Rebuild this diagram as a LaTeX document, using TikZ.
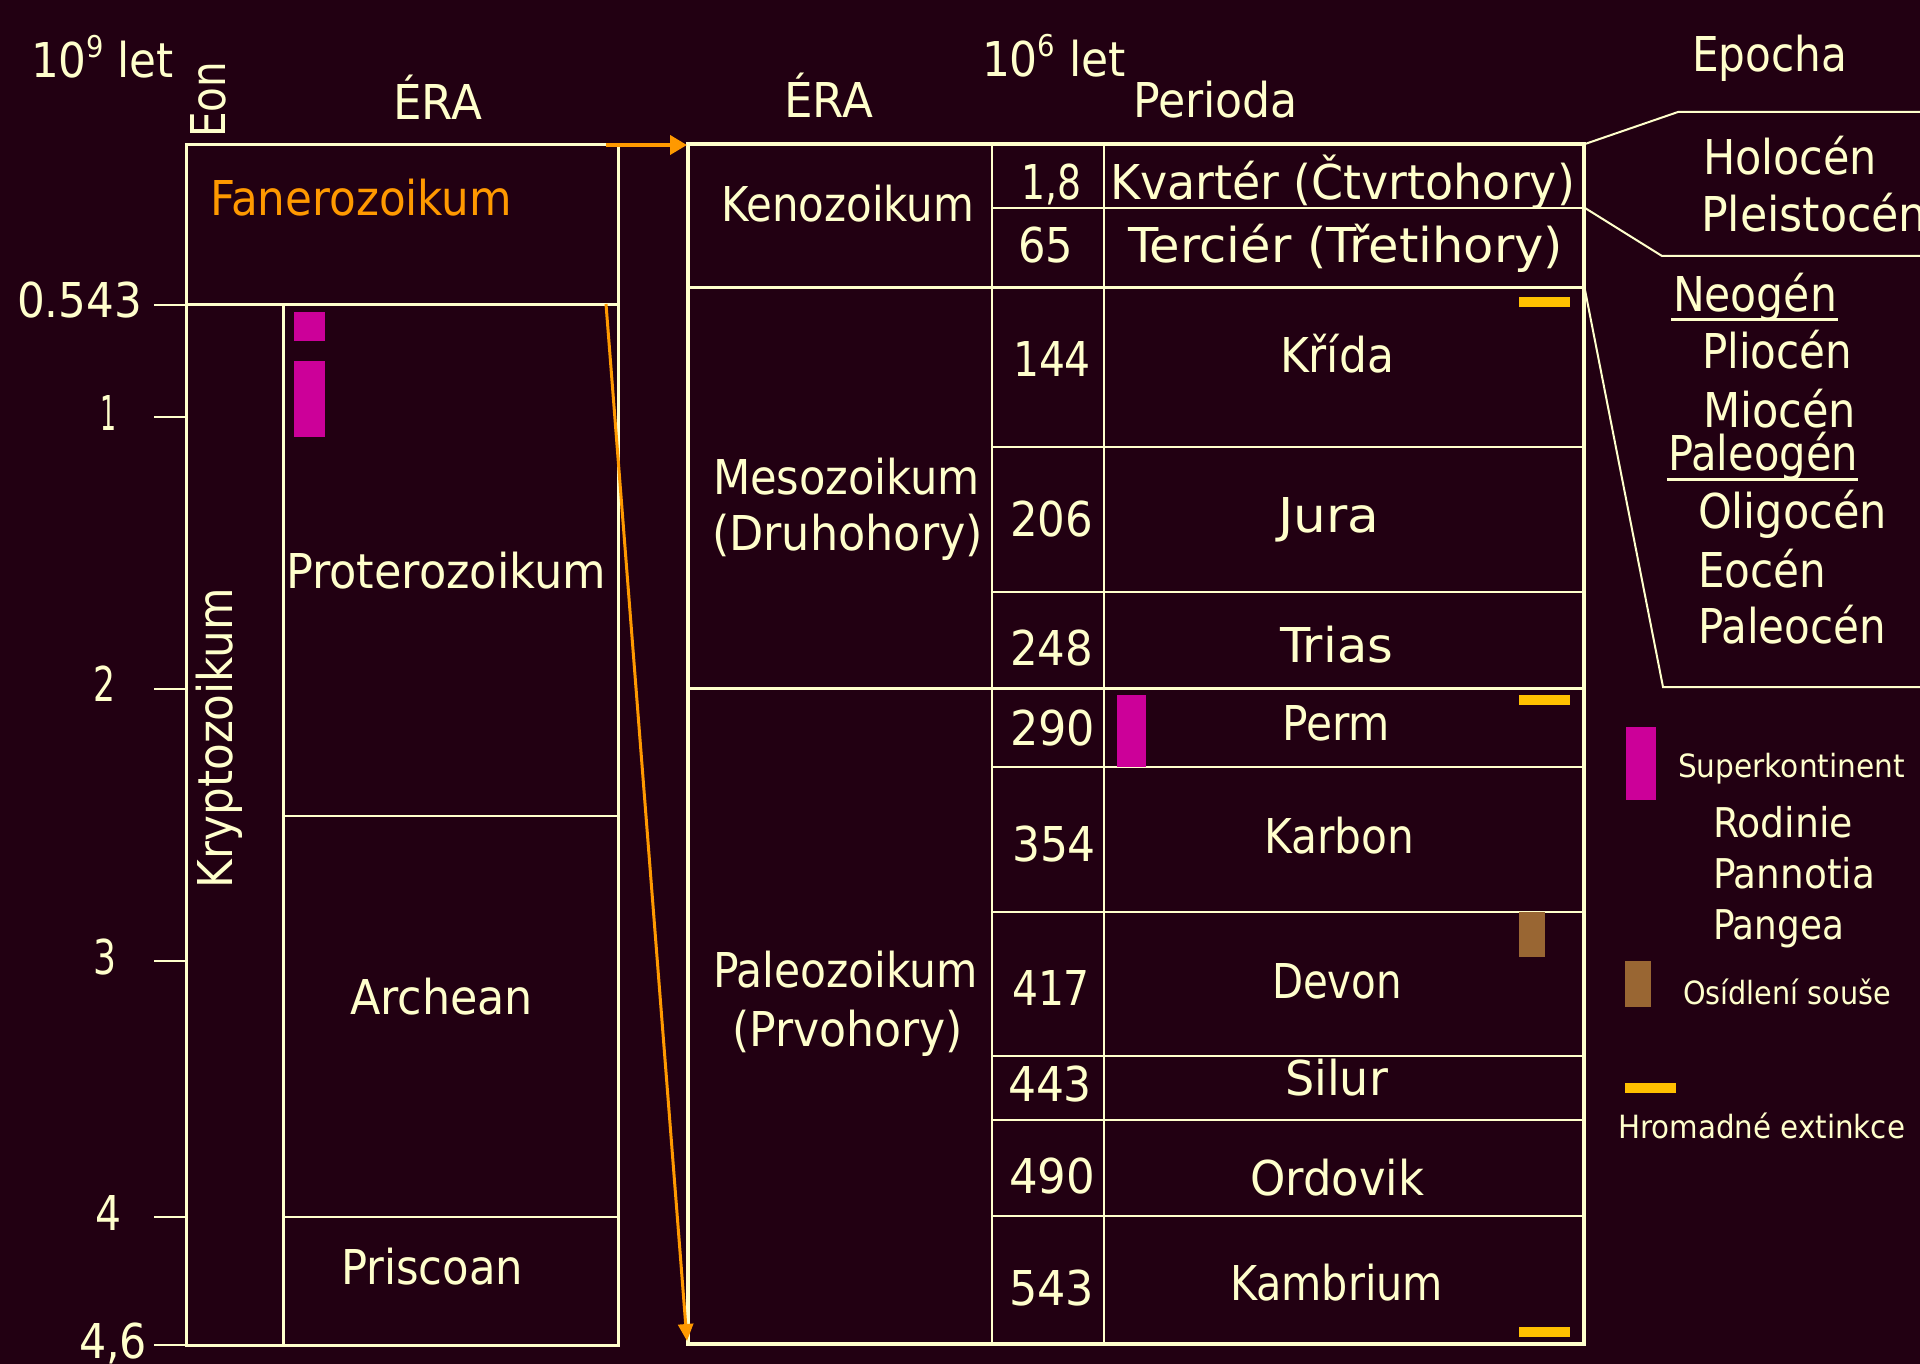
\documentclass[tikz,border=0pt]{standalone}
\usepackage{fontspec}
\setmainfont{DejaVu Sans}
\usepackage{graphicx}
\usetikzlibrary{arrows.meta}
\definecolor{bgc}{HTML}{220012}
\definecolor{cream}{HTML}{FFFFCC}
\definecolor{orng}{HTML}{FF9900}
\definecolor{mag}{HTML}{CC0099}
\definecolor{brn}{HTML}{996633}
\definecolor{ylw}{HTML}{FFC000}
\newcommand{\putt}[6][]{\node[txt,#1] (#2) at (#3,#4) {\resizebox{#5pt}{\height}{#6}};}
\newcommand{\supnum}[1]{\raisebox{0.42em}{\fontsize{30}{30}\selectfont #1}}
\begin{document}
\begin{tikzpicture}[x=1pt,y=-1pt,
 txt/.style={anchor=base west, inner sep=0pt, outer sep=0pt, text=cream, font=\fontsize{48}{56}\selectfont},
 small/.style={font=\fontsize{32}{38}\selectfont},
 mid/.style={font=\fontsize{41}{48}\selectfont},
 thickline/.style={draw=cream, line width=4pt},
 medline/.style={draw=cream, line width=3pt},
 thinline/.style={draw=cream, line width=2pt},
 tickline/.style={draw=cream, line width=1.5pt},
 arr/.style={draw=orng, line width=4pt, -{Triangle[length=17pt,width=19pt]}},
 arrthin/.style={draw=orng, line width=3pt, -{Triangle[length=17pt,width=15pt]}},
]
\useasboundingbox (0,0) rectangle (1920,1364);
\fill[bgc] (0,0) rectangle (1920,1364);

% ---------- left column (10^9 let) ----------
\draw[medline] (186,145) rectangle (618,1345);
\draw[medline] (186,305) -- (618,305);
\draw[medline] (283,305) -- (283,1345);
\draw[thinline] (283,816) -- (618,816);
\draw[thinline] (283,1217) -- (618,1217);
\foreach \yy in {305,417,689,961,1217,1345} \draw[tickline] (154,\yy) -- (186,\yy);

\fill[mag] (294,312) rectangle (325,341);
\fill[mag] (294,361) rectangle (325,437);

\putt{h9}{31}{78}{143}{10\supnum{9} let}
\putt[rotate=90]{eon}{225}{138}{76}{Eon}
\putt{era1}{393}{120}{89}{ÉRA}
\putt[text=orng]{fan}{210}{216}{302}{Fanerozoikum}
\putt{t0}{17}{318}{125}{0.543}
\putt{t1}{100}{430}{16}{1}
\putt{t2}{93}{701}{22}{2}
\putt{t3}{93}{974}{23}{3}
\putt{t4}{95}{1230}{26}{4}
\putt{t46}{79}{1358}{68}{4,6}
\putt{prot}{286}{588}{320}{Proterozoikum}
\putt{arch}{350}{1014}{183}{Archean}
\putt{prisc}{341}{1284}{182}{Priscoan}
\putt[rotate=90]{kryp}{232}{888}{300}{Kryptozoikum}

% ---------- right table (10^6 let) ----------
\draw[thinline] (992,144) -- (992,1344);
\draw[thinline] (1104,144) -- (1104,1344);
\foreach \yy in {208,447,592,767,912,1056,1120,1216} \draw[thinline] (992,\yy) -- (1584,\yy);
\draw[medline] (688,288) -- (1584,288);
\draw[medline] (688,688) -- (1584,688);
\draw[thickline] (688,144) rectangle (1584,1344);

\fill[mag] (1117,695) rectangle (1146,767);
\fill[ylw] (1519,297) rectangle (1570,307);
\fill[ylw] (1519,695) rectangle (1570,705);
\fill[ylw] (1519,1327) rectangle (1570,1337);
\fill[brn] (1519,912) rectangle (1545,957);

\putt{era2}{784}{118}{89}{ÉRA}
\putt{h6}{982}{77}{144}{10\supnum{6} let}
\putt{per}{1133}{118}{165}{Perioda}
\putt{epo}{1692}{72}{155}{Epocha}
\putt{keno}{721}{222}{253}{Kenozoikum}
\putt{n18}{1021}{200}{60}{1,8}
\putt{kvar}{1110}{200}{465}{Kvartér (Čtvrtohory)}
\putt{n65}{1018}{263}{55}{65}
\putt{terc}{1128}{263}{435}{Terciér (Třetihory)}
\putt{n144}{1013}{376}{78}{144}
\putt{krid}{1280}{372}{114}{Křída}
\putt{n206}{1010}{536}{83}{206}
\putt{jura}{1278}{532}{101}{Jura}
\putt{n248}{1010}{665}{83}{248}
\putt{trias}{1280}{662}{113}{Trias}
\putt{meso}{713}{494}{267}{Mesozoikum}
\putt{druh}{712}{550}{271}{(Druhohory)}
\putt{n290}{1010}{745}{85}{290}
\putt{perm}{1282}{740}{108}{Perm}
\putt{n354}{1012}{861}{84}{354}
\putt{karb}{1264}{853}{150}{Karbon}
\putt{n417}{1012}{1005}{78}{417}
\putt{devon}{1272}{998}{130}{Devon}
\putt{n443}{1008}{1101}{84}{443}
\putt{silur}{1285}{1095}{103}{Silur}
\putt{n490}{1009}{1193}{86}{490}
\putt{ordo}{1250}{1195}{174}{Ordovik}
\putt{n543}{1009}{1305}{85}{543}
\putt{kamb}{1230}{1300}{213}{Kambrium}
\putt{paleo}{713}{987}{265}{Paleozoikum}
\putt{prvo}{732}{1046}{231}{(Prvohory)}

% ---------- epoch brackets ----------
\draw[thinline] (1585,144) -- (1678,112) -- (1925,112);
\draw[thinline] (1585,208) -- (1662,256) -- (1925,256);
\draw[thinline] (1585,290) -- (1663,687) -- (1925,687);

\putt{holo}{1703}{175}{174}{Holocén}
\putt{pleis}{1701}{232}{226}{Pleistocén}
\putt{neog}{1673}{312}{164}{Neogén}
\draw[medline] (1671,320) -- (1838,320);
\putt{plio}{1702}{368}{150}{Pliocén}
\putt{mio}{1703}{427}{153}{Miocén}
\putt{paleog}{1668}{470}{190}{Paleogén}
\draw[medline] (1667,479) -- (1858,479);
\putt{olig}{1698}{528}{189}{Oligocén}
\putt{eoc}{1698}{587}{128}{Eocén}
\putt{paleoc}{1698}{643}{188}{Paleocén}

% ---------- legend ----------
\fill[mag] (1626,727) rectangle (1656,800);
\putt[small]{superk}{1678}{777}{227}{Superkontinent}
\putt[mid]{rod}{1713}{837}{140}{Rodinie}
\putt[mid]{pann}{1713}{888}{162}{Pannotia}
\putt[mid]{pang}{1713}{939}{131}{Pangea}
\fill[brn] (1625,961) rectangle (1651,1007);
\putt[small]{osid}{1683}{1004}{208}{Osídlení souše}
\fill[ylw] (1625,1083) rectangle (1676,1093);
\putt[small]{hrom}{1618}{1138}{287}{Hromadné extinkce}

% ---------- orange arrows ----------
\coordinate (a1s) at (606,145);
\coordinate (a1e) at (687,145);
\coordinate (a2s) at (606,304);
\coordinate (a2e) at (687,1341);
\draw[arr] (a1s) -- (a1e);
\draw[arrthin] (a2s) -- (a2e);
\end{tikzpicture}
\end{document}
